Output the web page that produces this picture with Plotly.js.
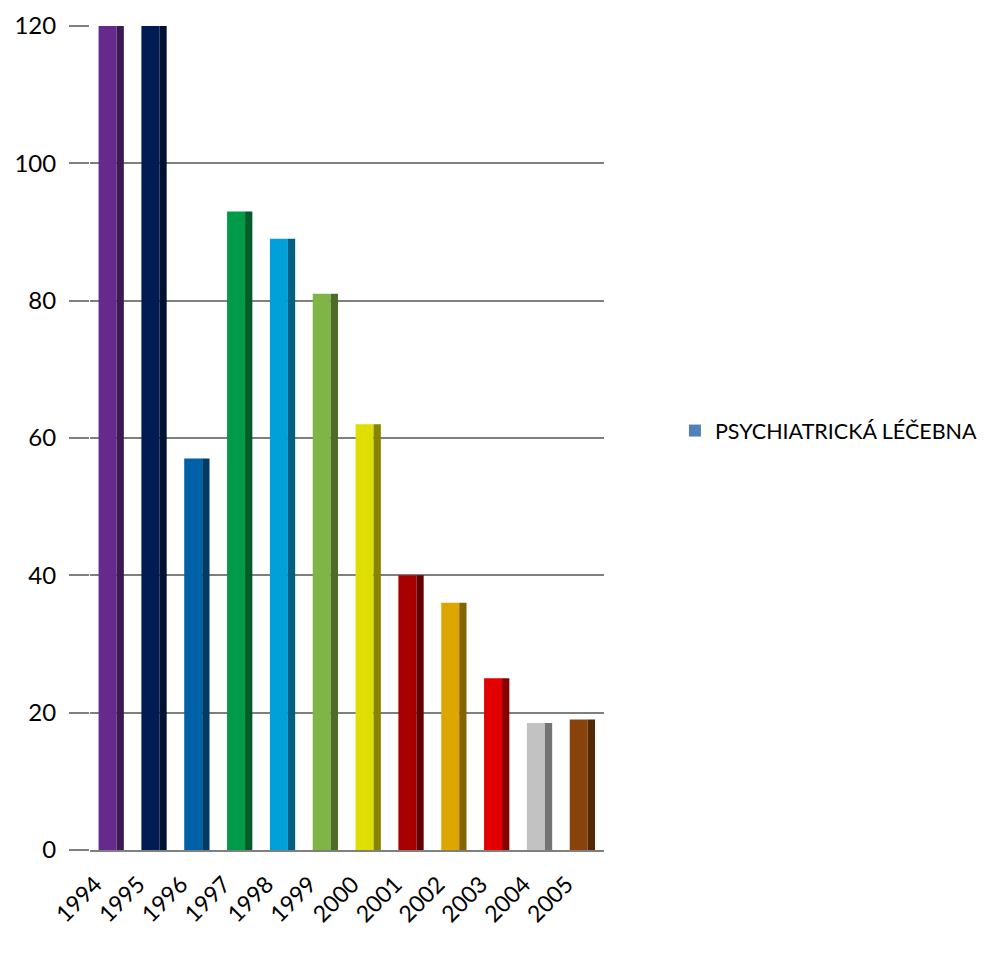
<!DOCTYPE html>
<html>
<head>
<meta charset="utf-8">
<script src="https://cdn.plot.ly/plotly-3.0.1.min.js"></script>
<style>
  html, body { margin: 0; padding: 0; background: #ffffff; }
  #chart { width: 986px; height: 958px; }
</style>
</head>
<body>
<div id="chart"></div>
<script>
// Patients per year
const years = ['1994', '1995', '1996', '1997', '1998', '1999', '2000', '2001', '2002', '2003', '2004', '2005'];
const patients = [120, 120, 57, 93, 89, 81, 62, 40, 36, 25, 18.5, 19];
const barColors = ['#652A8C', '#001C52', '#0060A8', '#009B48', '#00A0D8', '#7FB446',
                   '#DEDE00', '#A80000', '#DDA600', '#E20000', '#C2C2C2', '#88420C'];
const seriesName = 'PSYCHIATRICKÁ LÉČEBNA';
const seriesColor = '#4F81BD';
const yTicks = [0, 20, 40, 60, 80, 100, 120];

// darker tone for the side face of each column
function shade(hex, f) {
  const n = parseInt(hex.slice(1), 16);
  const r = Math.round(((n >> 16) & 255) * f);
  const g = Math.round(((n >> 8) & 255) * f);
  const b = Math.round((n & 255) * f);
  return 'rgb(' + r + ',' + g + ',' + b + ')';
}

const family = 'Lato, "Open Sans", sans-serif';
const yFont = { family: family, size: 24, color: '#000000' };
const xFont = { family: family, size: 23, color: '#000000' };
const legendFont = { family: family, size: 21.5, color: '#000000' };

const frontFaces = {
  type: 'bar',
  x: years,
  y: patients,
  width: 0.42,
  offset: -0.3,
  marker: { color: barColors, line: { width: 0 } },
  showlegend: false,
  hovertemplate: '%{x}: %{y}<extra></extra>'
};

const sideFaces = {
  type: 'bar',
  x: years,
  y: patients,
  width: 0.17,
  offset: 0.12,
  marker: { color: barColors.map(c => shade(c, 0.6)), line: { width: 0 } },
  showlegend: false,
  hoverinfo: 'skip'
};

const legendEntry = {
  type: 'bar',
  x: [years[0]],
  y: [null],
  name: seriesName,
  marker: { color: seriesColor },
  hoverinfo: 'skip'
};

const layout = {
  width: 986,
  height: 958,
  margin: { l: 90, r: 382, t: 26, b: 108, autoexpand: false },
  paper_bgcolor: '#ffffff',
  plot_bgcolor: '#ffffff',
  barmode: 'overlay',
  font: yFont,
  xaxis: {
    type: 'category',
    tickangle: -45,
    tickfont: xFont,
    ticklabelstandoff: 10,
    ticklabelshift: -16,
    showgrid: false,
    showline: true,
    linecolor: '#7F7F7F',
    linewidth: 1.5,
    ticks: '',
    fixedrange: true
  },
  yaxis: {
    range: [0, 120],
    tickvals: yTicks,
    ticktext: yTicks.map(String),
    tickfont: yFont,
    ticklabelstandoff: 8,
    showgrid: true,
    gridcolor: '#7F7F7F',
    gridwidth: 1.5,
    ticks: 'outside',
    ticklen: 20,
    tickwidth: 1.5,
    tickcolor: '#7F7F7F',
    zeroline: false,
    showline: false,
    fixedrange: true
  },
  legend: {
    x: 1.138,
    xanchor: 'left',
    y: 0.509,
    yanchor: 'middle',
    font: legendFont,
    bgcolor: 'rgba(0,0,0,0)'
  },
  showlegend: true
};

Plotly.newPlot('chart', [frontFaces, sideFaces, legendEntry], layout, { displayModeBar: false, responsive: false });
</script>
</body>
</html>
